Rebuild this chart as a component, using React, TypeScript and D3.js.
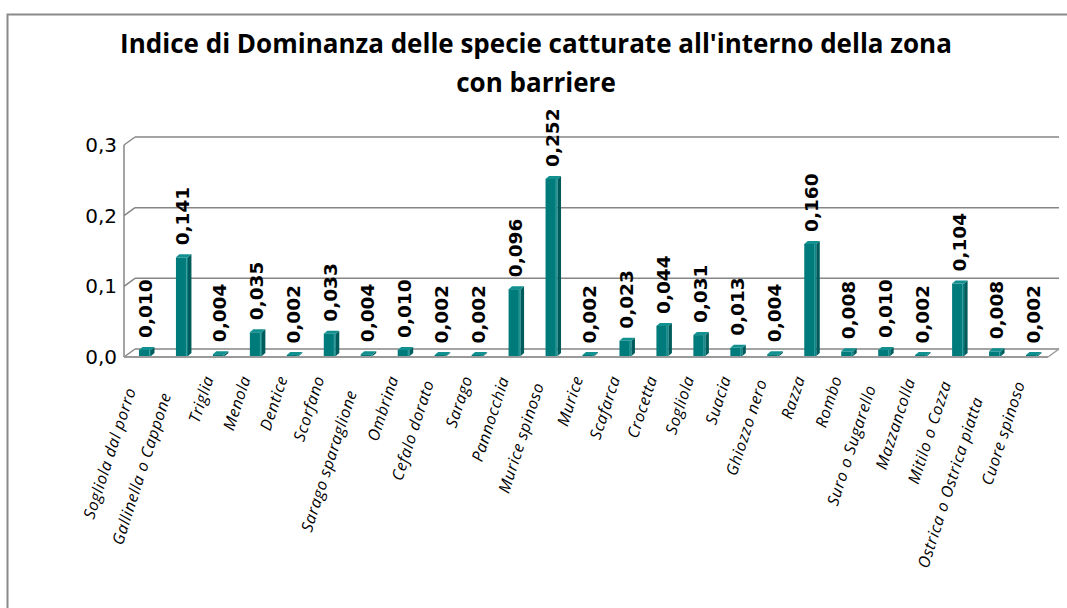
import React from "react";
import * as d3 from "d3";

const categories = [
  "Sogliola dal porro",
  "Gallinella o Cappone",
  "Triglia",
  "Menola",
  "Dentice",
  "Scorfano",
  "Sarago sparaglione",
  "Ombrina",
  "Cefalo dorato",
  "Sarago",
  "Pannocchia",
  "Murice spinoso",
  "Murice",
  "Scafarca",
  "Crocetta",
  "Sogliola",
  "Suacia",
  "Ghiozzo nero",
  "Razza",
  "Rombo",
  "Suro o Sugarello",
  "Mazzancolla",
  "Mitilo o Cozza",
  "Ostrica o Ostrica piatta",
  "Cuore spinoso",
];

const values = [
  0.010, 0.141, 0.004, 0.035, 0.002, 0.033, 0.004, 0.010, 0.002, 0.002, 0.096,
  0.252, 0.002, 0.023, 0.044, 0.031, 0.013, 0.004, 0.160, 0.008, 0.010, 0.002,
  0.104, 0.008, 0.002,
];

const yTicks = [0, 0.1, 0.2, 0.3];

const titleLines = [
  "Indice di Dominanza delle specie catturate all'interno della zona",
  "con barriere",
];

const W = 1067;
const H = 608;

const CAT_SIZE = 16;
const CAT_SPACING = 0.6;
const CAT_FONT = `italic ${CAT_SIZE}px "Open Sans"`;

let measureCtx: CanvasRenderingContext2D | null = null;
function measure(text: string, font: string): number {
  if (!measureCtx) {
    const c = document.createElement("canvas");
    measureCtx = c.getContext("2d");
  }
  if (!measureCtx) return text.length * 8.5;
  measureCtx.font = font;
  return measureCtx.measureText(text).width;
}

export default function App() {
  const floorFrontY = 357;
  const depthX = 11;
  const depthY = -8;
  const x = d3.scaleBand<string>().domain(categories).range([124, 1048]);
  const y = d3.scaleLinear().domain([0, 0.3]).range([floorFrontY, 145]);
  const fmt = (v: number) => d3.format(".3f")(v).replace(".", ",");
  const fmtAxis = (v: number) => d3.format(".1f")(v).replace(".", ",");

  const xLeft = x.range()[0];
  const xRight = x.range()[1];
  const barW = 12;
  const bdx = 3.5;
  const bdy = -3;
  const angle = -72;
  const rad = (angle * Math.PI) / 180;
  const dirX = Math.cos(rad);
  const dirY = Math.sin(rad);

  return (
    <svg
      width={W}
      height={H}
      style={{ position: "absolute", left: 0, top: 0, background: "#fff" }}
    >
      <rect
        x={7.5}
        y={14.5}
        width={W + 20}
        height={H + 20}
        fill="#fff"
        stroke="#8a8a8a"
        strokeWidth={2}
      />
      {titleLines.map((t, i) => (
        <text
          key={i}
          x={536}
          y={53 + i * 39}
          textAnchor="middle"
          fontFamily='"Open Sans", sans-serif'
          fontWeight="bold"
          fontSize={26}
          fill="#000"
        >
          {t}
        </text>
      ))}

      {/* back wall gridlines and left diagonals */}
      {yTicks.map((t) => (
        <g key={t}>
          <line
            x1={xLeft + depthX}
            x2={xRight + depthX}
            y1={y(t) + depthY}
            y2={y(t) + depthY}
            stroke="#868686"
            strokeWidth={1.5}
          />
          <line
            x1={xLeft}
            x2={xLeft + depthX}
            y1={y(t)}
            y2={y(t) + depthY}
            stroke="#868686"
            strokeWidth={1.5}
          />
          <text
            x={117}
            y={y(t)}
            textAnchor="end"
            dominantBaseline="central"
            fontFamily='"DejaVu Sans", sans-serif'
            fontSize={20}
            fill="#000"
          >
            {fmtAxis(t)}
          </text>
        </g>
      ))}
      {/* y axis */}
      <line
        x1={xLeft}
        x2={xLeft}
        y1={y(0.3)}
        y2={y(0)}
        stroke="#868686"
        strokeWidth={1.5}
      />
      {/* floor */}
      <line
        x1={xLeft}
        x2={xRight}
        y1={y(0)}
        y2={y(0)}
        stroke="#9a9a9a"
        strokeWidth={2}
      />
      <line
        x1={xRight}
        x2={xRight + depthX}
        y1={y(0)}
        y2={y(0) + depthY}
        stroke="#9a9a9a"
        strokeWidth={1.5}
      />

      {/* bars */}
      {categories.map((c, i) => {
        const v = values[i];
        const cx = (x(c) ?? 0) + x.bandwidth() / 2 + 2.5;
        const x0 = cx - barW / 2;
        const base = y(0) - 1;
        const top = Math.min(y(v), base - 1);
        return (
          <g key={c}>
            <polygon
              points={`${x0 + barW},${top} ${x0 + barW + bdx},${top + bdy} ${x0 + barW + bdx},${base + bdy} ${x0 + barW},${base}`}
              fill="#005c5c"
            />
            <rect x={x0} y={top} width={barW} height={base - top} fill="#007b7b" />
            <line
              x1={x0 + barW - 1.5}
              x2={x0 + barW - 1.5}
              y1={top}
              y2={base}
              stroke="#3fa3a3"
              strokeWidth={1}
            />
            <polygon
              points={`${x0},${top} ${x0 + bdx},${top + bdy} ${x0 + barW + bdx},${top + bdy} ${x0 + barW},${top}`}
              fill="#11908f"
            />
            <text
              transform={`translate(${cx + 1},${y(v) - 12}) rotate(-90)`}
              textAnchor="start"
              dominantBaseline="central"
              fontFamily='"DejaVu Sans", sans-serif'
              fontWeight="bold"
              fontSize={18.5}
              fill="#000"
            >
              {fmt(v)}
            </text>
          </g>
        );
      })}

      {/* category labels */}
      {categories.map((c) => {
        const cx = (x(c) ?? 0) + x.bandwidth() / 2 + 2.5;
        const L = measure(c, CAT_FONT) + CAT_SPACING * c.length;
        const d = Math.max(0, (L - 85) * 0.24);
        const ax = cx - 5 - dirX * d;
        const ay = 378 - dirY * d;
        return (
          <text
            key={c}
            transform={`translate(${ax},${ay}) rotate(${angle})`}
            textAnchor="end"
            fontFamily='"Open Sans", sans-serif'
            fontStyle="italic"
            fontSize={CAT_SIZE}
            letterSpacing={CAT_SPACING}
            fill="#000"
          >
            {c}
          </text>
        );
      })}
    </svg>
  );
}
